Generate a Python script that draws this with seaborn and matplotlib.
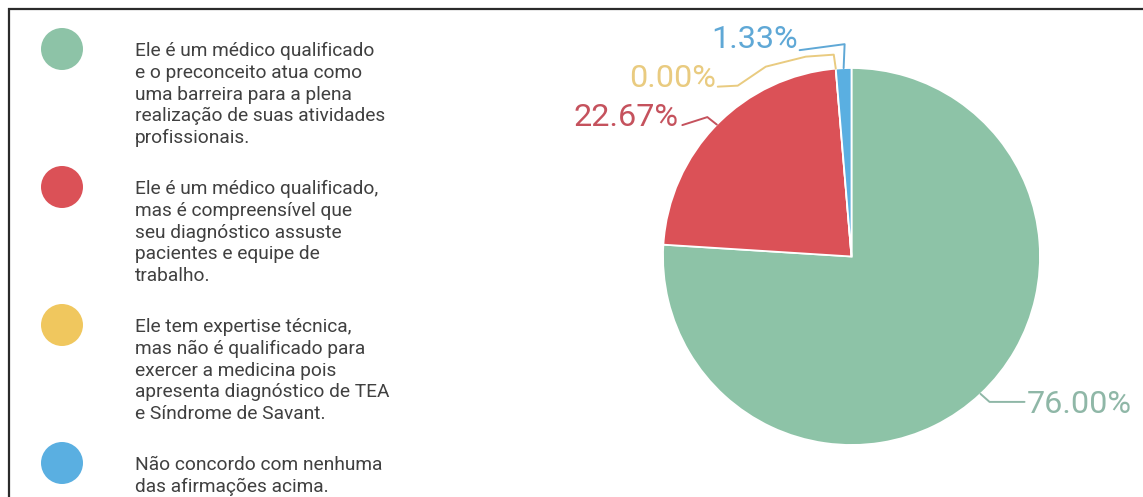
import numpy as np
import seaborn as sns
import matplotlib.pyplot as plt

# answers and their share (%)
categories = [
    "Ele é um médico qualificado\ne o preconceito atua como\numa barreira para a plena\nrealização de suas atividades\nprofissionais.",
    "Ele é um médico qualificado,\nmas é compreensível que\nseu diagnóstico assuste\npacientes e equipe de\ntrabalho.",
    "Ele tem expertise técnica,\nmas não é qualificado para\nexercer a medicina pois\napresenta diagnóstico de TEA\ne Síndrome de Savant.",
    "Não concordo com nenhuma\ndas afirmações acima.",
]
shares = [76.00, 22.67, 0.00, 1.33]
pct_labels = ["76.00%", "22.67%", "0.00%", "1.33%"]

wedge_colors = ["#8dc3a7", "#db5157", "#f0c75e", "#5aafe1"]
label_colors = ["#8fb7a7", "#c5525d", "#e9cb80", "#5fa8d6"]

W, H = 1143, 497
DPI = 100
R_PX = 188.5
CX, CY = 851.5, 256.5

sns.set_theme(style="white")
plt.rcParams['font.family'] = ['Roboto', 'DejaVu Sans']

fig = plt.figure(figsize=(W / DPI, H / DPI), dpi=DPI)
fig.patch.set_facecolor("white")

# overlay axes in pixel coordinates (frame + legend)
lax = fig.add_axes([0, 0, 1, 1])
lax.set_xlim(0, W)
lax.set_ylim(H, 0)
lax.axis("off")

lax.plot([8, W], [8.5, 8.5], color="#2b2b2b", lw=1.6, solid_capstyle="butt")
lax.plot([8.5, 8.5], [8, H], color="#2b2b2b", lw=1.6, solid_capstyle="butt")

# legend, one text per line so the spacing is exact
line_h = 21.6
gap = 30
base = 56.5
fs_leg = 13.8
n_before = 0
for i, (txt, col) in enumerate(zip(categories, wedge_colors)):
    rows = txt.split("\n")
    y0 = base + n_before * line_h + i * gap
    lax.scatter([62], [y0 - 7.5], s=(42 * 72 / DPI) ** 2, color=col, edgecolor="none")
    for k, row in enumerate(rows):
        lax.text(135, y0 + k * line_h, row, fontsize=fs_leg, color="#404040",
                 va="baseline", ha="left")
    n_before += len(rows)

# pie
side = 400
pax = fig.add_axes([(CX - side / 2) / W, (H - CY - side / 2) / H, side / W, side / H])
wedges, _ = pax.pie(shares, colors=wedge_colors, startangle=90, counterclock=False,
                    wedgeprops=dict(edgecolor="white", linewidth=1.3))
lim = side / 2 / R_PX
pax.set_xlim(-lim, lim)
pax.set_ylim(-lim, lim)
pax.axis("off")

# connector paths (pixel offsets from the wedge edge, y up) and text anchors
paths = [
    [(0, 0), (9, -8), (44, -8)],
    [(0, 0), (-9.5, 7.5), (-34.5, -0.5)],
    [(0, 0), (-2, 14), (-30, 12), (-70, 2), (-98, -17), (-118, -18)],
    [(0, 0), (1, 24), (-44, 18)],
]
text_pos = [(46, -19, "left"), (-38, -1, "right"), (-120, -18.5, "right"), (-46, 20, "right")]

for w, path, (tx, ty, ha), lab, col in zip(wedges, paths, text_pos, pct_labels, label_colors):
    mid = np.deg2rad((w.theta1 + w.theta2) / 2)
    ex, ey = np.cos(mid), np.sin(mid)
    xs = [ex + dx / R_PX for dx, dy in path]
    ys = [ey + dy / R_PX for dx, dy in path]
    pax.plot(xs, ys, color=col, lw=1.4, clip_on=False, solid_joinstyle="round")
    pax.text(ex + tx / R_PX, ey + ty / R_PX, lab, color=col, fontsize=23.3,
             ha=ha, va="baseline", clip_on=False)

fig.savefig("out.png", dpi=DPI, facecolor="white")
